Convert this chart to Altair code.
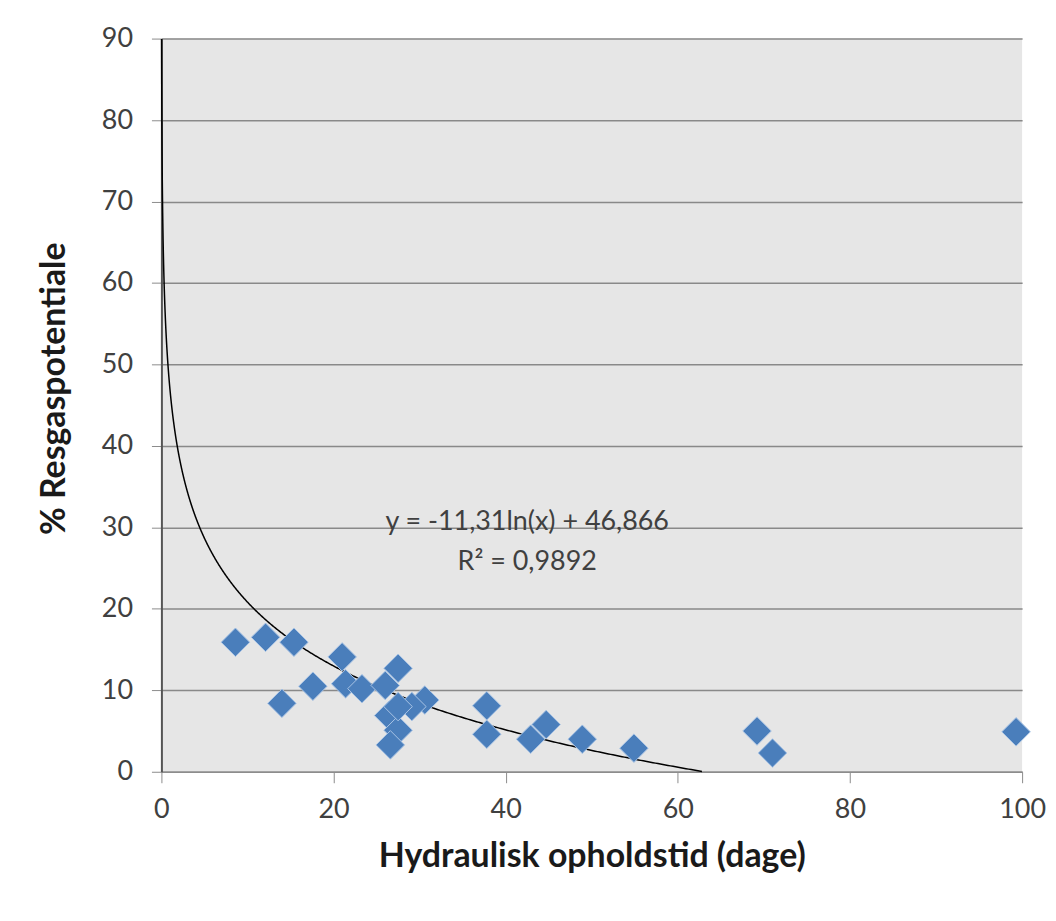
import altair as alt
import pandas as pd

# Scatter data (hydraulic retention time in days, % residual gas potential)
hrt_days = [8.6, 12.1, 15.4, 14.0, 17.6, 21.0, 21.4, 23.3, 27.5, 26.0, 30.6, 29.1,
            26.4, 27.5, 26.6, 27.5, 37.8, 37.8, 42.9, 44.7, 48.9, 54.9, 69.2, 71.0, 99.3]
resgas_pct = [15.9, 16.5, 15.9, 8.4, 10.5, 14.1, 10.8, 10.2, 12.7, 10.6, 8.8, 8.0,
              6.9, 5.1, 3.3, 8.0, 8.1, 4.6, 4.0, 5.8, 4.0, 2.9, 5.0, 2.3, 4.9]

# Trend line (as printed on the chart): y = -11,31 ln(x) + 46,866
TREND_A = -11.31
TREND_B = 46.866

# Annotation
eq_lines = ["y = -11,31ln(x) + 46,866", "R² = 0,9892"]
eq_x = [42.5, 42.5]
eq_y = [30.7, 25.8]

x_ticks = [0, 20, 40, 60, 80, 100]
y_ticks = [0, 10, 20, 30, 40, 50, 60, 70, 80, 90]

FONT = "Lato"

df = pd.DataFrame({"x": hrt_days, "y": resgas_pct})
ann = pd.DataFrame({"label": eq_lines, "x": eq_x, "y": eq_y})

xscale = alt.Scale(domain=[0, 100], nice=False)
yscale = alt.Scale(domain=[0, 90], nice=False)

xaxis = alt.Axis(
    title="Hydraulisk opholdstid (dage)", values=x_ticks, grid=False,
    domainColor="#8c8c8c", domainWidth=1.5, tickColor="#8c8c8c", tickSize=11,
    labelFont=FONT, labelFontSize=27, labelColor="#404040", labelPadding=14,
    labelFlush=False, labelOverlap=False,
    titleFont=FONT, titleFontSize=34, titleFontWeight="bold", titleColor="#1a1a1a",
    titlePadding=17,
)
yaxis = alt.Axis(
    title="% Resgaspotentiale", values=y_ticks, grid=True, gridColor="#898989",
    gridWidth=1.5, domainColor="#555555", domainWidth=2, tickColor="#8c8c8c",
    tickSize=10, labelFont=FONT, labelFontSize=27, labelColor="#404040",
    labelPadding=19, labelFlush=False, labelOverlap=False,
    titleFont=FONT, titleFontSize=34, titleFontWeight="bold",
    titleColor="#1a1a1a", titlePadding=30, titleY=351,
)

points = alt.Chart(df).mark_point(
    shape="diamond", filled=True, size=820, fill="#4a7ebb", stroke="#a8c3e4",
    strokeWidth=1, opacity=1,
).encode(
    x=alt.X("x:Q", scale=xscale, axis=xaxis),
    y=alt.Y("y:Q", scale=yscale, axis=yaxis),
)

trend = alt.Chart(alt.sequence(-3.81, 4.15, 0.005, as_="t")).transform_calculate(
    x="exp(datum.t)",
    y=f"{TREND_A} * datum.t + {TREND_B}",
).transform_filter(
    "datum.y >= 0 && datum.y <= 90"
).mark_line(color="#000000", strokeWidth=1.5).encode(
    x=alt.X("x:Q", scale=xscale),
    y=alt.Y("y:Q", scale=yscale),
)

text = alt.Chart(ann).mark_text(
    font=FONT, fontSize=27, color="#404040", align="center", baseline="middle"
).encode(
    x=alt.X("x:Q", scale=xscale),
    y=alt.Y("y:Q", scale=yscale),
    text="label:N",
)

chart = alt.layer(trend, points, text).properties(
    width=864, height=736,
    autosize=alt.AutoSizeParams(type="none"),
    padding={"left": 154, "top": 29, "right": 26, "bottom": 120},
    background="#ffffff",
).configure_view(
    fill="#e6e6e6", stroke=None,
)

chart.save("out.html", embed_options={"renderer": "svg", "actions": False})
